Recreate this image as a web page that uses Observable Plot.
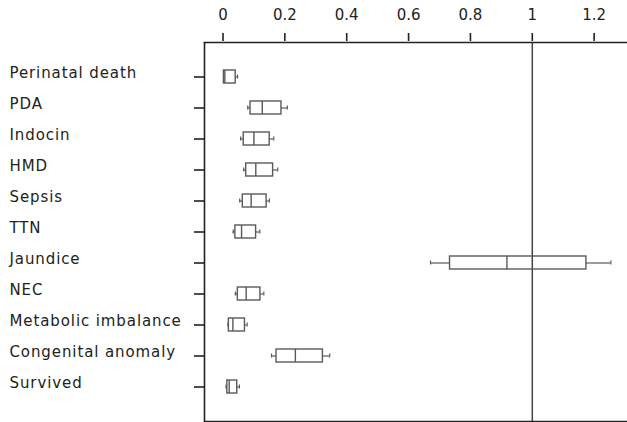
<!DOCTYPE html>
<html>
<head>
<meta charset="utf-8">
<script src="https://cdn.jsdelivr.net/npm/d3@7"></script>
<script src="https://cdn.jsdelivr.net/npm/@observablehq/plot@0.6"></script>
<style>
  html, body { margin: 0; padding: 0; background: #fff; }
  #chart svg { display: block; }
  g[aria-label="y-axis tick label"] text { letter-spacing: 0.9px; }
</style>
</head>
<body>
<div id="chart"></div>
<script>
const categories = ["Perinatal death", "PDA", "Indocin", "HMD", "Sepsis", "TTN", "Jaundice", "NEC", "Metabolic imbalance", "Congenital anomaly", "Survived"];
const whiskerLow  = [0.002, 0.080, 0.057, 0.067, 0.054, 0.033, 0.671, 0.040, 0.016, 0.157, 0.010];
const quartile1   = [0.003, 0.089, 0.067, 0.075, 0.064, 0.040, 0.734, 0.048, 0.019, 0.173, 0.014];
const median      = [0.006, 0.127, 0.100, 0.106, 0.091, 0.060, 0.918, 0.075, 0.032, 0.234, 0.020];
const quartile3   = [0.041, 0.189, 0.151, 0.162, 0.141, 0.107, 1.175, 0.121, 0.071, 0.323, 0.046];
const whiskerHigh = [0.047, 0.208, 0.164, 0.177, 0.150, 0.119, 1.254, 0.132, 0.078, 0.345, 0.053];
const xTicks = [0, 0.2, 0.4, 0.6, 0.8, 1, 1.2];
const xDomain = [-0.0598, 1.3078];
const referenceValue = [1];

const rows = categories.map((c, i) => ({
  cat: c, lo: whiskerLow[i], q1: quartile1[i], med: median[i], q3: quartile3[i], hi: whiskerHigh[i]
}));

const boxColor = "#5a5a5a";
const fontStyle = { fontFamily: "DejaVu Sans", fontSize: "15px", color: "#222", background: "#fff" };

// Top axis (tick marks + labels)
const topAxis = Plot.plot({
  width: 627,
  height: 41,
  marginTop: 41,
  marginBottom: 0,
  marginLeft: 204,
  marginRight: 0,
  style: fontStyle,
  x: { domain: xDomain },
  marks: [
    Plot.axisX({ anchor: "top", ticks: xTicks, tickFormat: d => String(d), tickSize: 9, tickPadding: 13, strokeWidth: 1.6, label: null })
  ]
});

// Main panel
const main = Plot.plot({
  width: 627,
  height: 381,
  marginTop: 1,
  marginLeft: 204,
  marginRight: 0,
  marginBottom: 1,
  style: fontStyle,
  x: { domain: xDomain, axis: null },
  y: { domain: categories, paddingInner: 0.57, paddingOuter: 0.8 },
  marks: [
    Plot.axisY({ anchor: "left", text: null, tickSize: 10, strokeWidth: 1.6, label: null }),
    Plot.axisY({ anchor: "left", tickSize: 0, tickPadding: 10, textAnchor: "start", dx: -185, dy: -4, label: null }),
    Plot.ruleX(referenceValue, { stroke: "#444", strokeWidth: 1.5 }),
    Plot.ruleY(rows, { y: "cat", x1: "lo", x2: "q1", stroke: boxColor, strokeWidth: 1.2 }),
    Plot.ruleY(rows, { y: "cat", x1: "q3", x2: "hi", stroke: boxColor, strokeWidth: 1.2 }),
    Plot.tickX(rows, { y: "cat", x: "lo", stroke: boxColor, strokeWidth: 1.2, insetTop: 4.5, insetBottom: 4.5 }),
    Plot.tickX(rows, { y: "cat", x: "hi", stroke: boxColor, strokeWidth: 1.2, insetTop: 4.5, insetBottom: 4.5 }),
    Plot.barX(rows, { y: "cat", x1: "q1", x2: "q3", fill: "none", stroke: boxColor, strokeWidth: 1.4 }),
    Plot.tickX(rows, { y: "cat", x: "med", stroke: boxColor, strokeWidth: 1.4 }),
    Plot.ruleX([xDomain[0]], { stroke: "#222", strokeWidth: 1.6 }),
    Plot.frame({ anchor: "top", stroke: "#222", strokeWidth: 1.6 }),
    Plot.frame({ anchor: "bottom", stroke: "#222", strokeWidth: 1.6 })
  ]
});

const host = document.getElementById("chart");
host.appendChild(topAxis);
host.appendChild(main);
</script>
</body>
</html>
